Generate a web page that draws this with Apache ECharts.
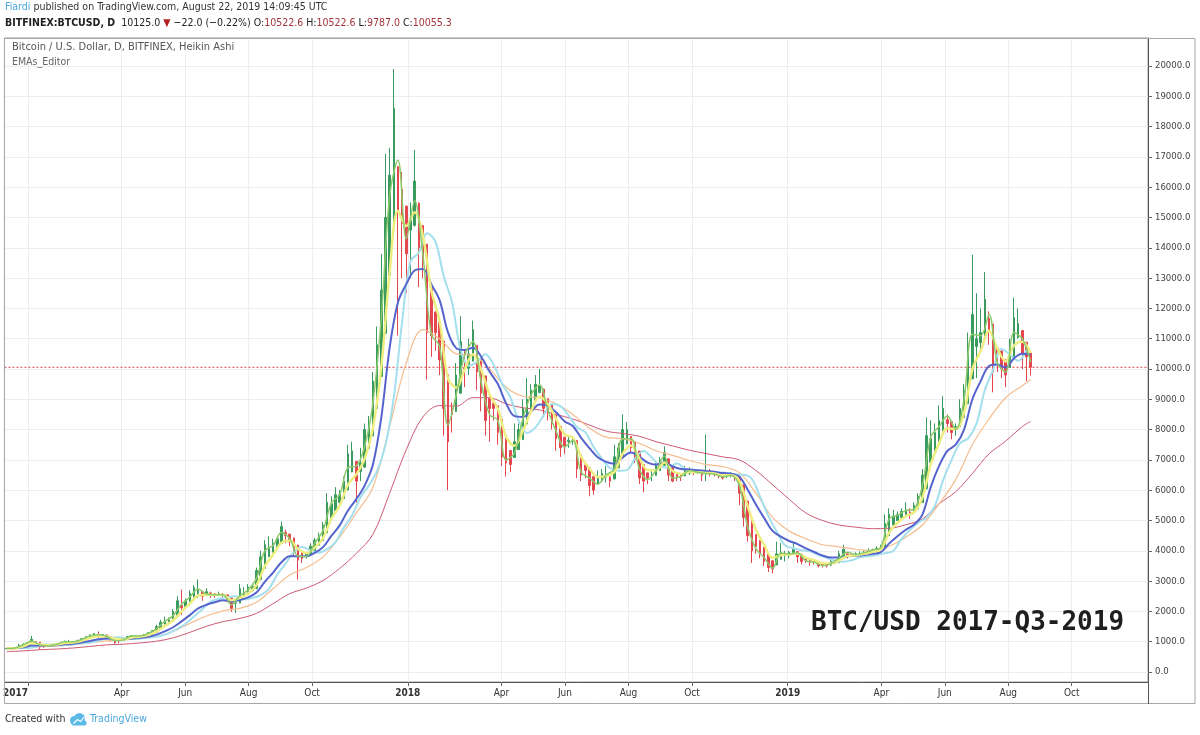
<!DOCTYPE html>
<html><head><meta charset="utf-8">
<script src="https://cdn.jsdelivr.net/npm/echarts/dist/echarts.min.js"></script>
<style>html,body{margin:0;padding:0;background:#fff}#c{width:1200px;height:735px}</style>
</head><body><div id="c"></div>
<script>
// ---------- DATA ----------
// Heikin Ashi candles, one every 4 days starting 2016-12-11
const CANDLE_START = '2016-12-11';
const CANDLE_STEP_DAYS = 4;
const haOpen = [
765,772,780,795,840,880,925,1000,980,905,
870,880,900,910,945,985,988,995,1020,1060,
1110,1165,1230,1210,1222,1170,1130,1050,1040,1065,
1118,1160,1170,1185,1212,1256,1313,1406,1580,1640,
1680,1840,2200,2160,2255,2430,2600,2650,2575,2610,
2585,2560,2570,2545,2440,2270,2275,2510,2565,2680,
2755,3050,3425,3810,3955,4100,4250,4600,4550,4425,
4190,3945,3840,3860,4005,4180,4340,4595,5100,5325,
5590,5720,6010,6600,6950,6620,6760,7380,7790,8700,
9750,11175,13090,14745,16670,15935,15370,14585,14740,15470,
14735,14120,12660,11880,11540,10920,9810,8705,8600,9200,
10050,10025,10260,10780,10340,9770,9035,8870,8785,8340,
7720,7310,7080,7340,7670,8185,8590,8945,9220,9335,
9020,8810,8505,8100,7750,7600,7625,7640,7170,6835,
6740,6445,6220,6310,6430,6440,6370,6735,7070,7535,
7770,7585,7290,6845,6570,6485,6490,6645,6820,7035,
6770,6535,6490,6470,6560,6605,6590,6595,6550,6575,
6560,6540,6510,6455,6470,6485,6450,6175,5640,5070,
4535,4340,4120,3885,3670,3535,3720,3835,3840,3895,
3970,3885,3770,3725,3670,3645,3570,3545,3520,3585,
3610,3755,3900,3875,3860,3880,3900,3925,3970,4000,
4040,4095,4500,4850,5000,5100,5200,5275,5260,5380,
5590,6045,6920,7310,7605,7950,8325,8260,8080,8090,
8395,8850,9675,10740,10870,11035,11670,11485,10690,10595,
10300,10050,10375,11040,11270,10885,10522.6];
const haClose = [
775,785,800,880,920,965,1080,960,830,830,
890,915,920,975,1020,990,1000,1045,1100,1160,
1220,1265,1190,1235,1120,1090,970,1030,1090,1170,
1200,1180,1200,1240,1300,1370,1500,1640,1700,1720,
2000,2350,2120,2350,2600,2780,2700,2500,2650,2560,
2540,2580,2520,2340,2100,2280,2750,2620,2800,2830,
3350,3800,4200,4100,4250,4400,4800,4500,4300,3950,
3700,3750,3880,4150,4350,4500,4850,5600,5550,5850,
5850,6300,7200,7300,6300,6900,8000,8200,9600,10800,
12600,15000,16400,18600,15200,14800,13800,14900,16200,14000,
13500,11200,11100,11200,10300,8700,7600,8500,9800,10900,
10000,10500,11300,9900,9200,8300,8700,8700,7900,7100,
6900,6850,7600,8000,8700,9000,9300,9500,9450,8700,
8600,8200,7700,7400,7450,7650,7650,6700,6500,6650,
6150,6000,6400,6550,6450,6300,7100,7400,8000,8000,
7400,7000,6400,6300,6400,6500,6800,7000,7250,6500,
6300,6450,6450,6650,6650,6580,6600,6500,6600,6550,
6520,6480,6400,6480,6500,6420,5900,5100,4500,4000,
4150,3900,3650,3450,3400,3900,3950,3850,3950,4050,
3800,3650,3680,3620,3620,3500,3520,3500,3650,3640,
3900,4050,3850,3850,3900,3920,3950,4020,4030,4080,
4150,4900,5200,5150,5200,5300,5350,5250,5500,5800,
6500,7800,7700,7900,8300,8700,8200,7900,8100,8700,
9300,10500,11800,11000,11200,12300,11300,9900,10500,10000,
9800,10700,11700,11500,10500,10400,10055.3];
const haLow = [
760,770,778,790,835,875,920,880,760,800,
850,875,895,905,940,950,975,990,1015,1055,
1105,1160,1120,1150,1060,1000,930,950,1030,1060,
1110,1150,1165,1180,1205,1250,1310,1400,1560,1620,
1675,1830,1880,2120,2250,2420,2450,2350,2500,2450,
2450,2500,2460,2300,1980,1950,2270,2480,2560,2670,
2750,3040,3420,3800,3950,4090,4240,4250,4150,3800,
3050,3600,3750,3855,4000,4175,4335,4590,5090,5320,
5450,5710,6000,6590,5600,6300,6750,7370,7780,8690,
9740,11170,13080,14740,11100,13000,12500,13000,14700,12700,
13000,9650,10400,10600,9800,7800,6000,7900,8580,9190,
9400,9800,10250,9300,8600,7800,7600,8300,7500,6800,
6450,6600,7070,7335,7660,8180,8585,8940,9200,8400,
8300,8000,7300,7100,7200,7400,7500,6400,6300,6400,
5800,5850,6210,6300,6250,6100,6365,6730,7065,7500,
7250,6900,6200,5930,6200,6300,6485,6640,6815,6300,
6260,6300,6300,6460,6500,6500,6540,6300,6300,6450,
6450,6400,6350,6400,6420,6300,5500,4800,4300,3600,
3900,3750,3500,3300,3250,3530,3700,3650,3750,3880,
3600,3550,3600,3500,3550,3450,3450,3450,3515,3580,
3605,3750,3750,3800,3830,3850,3880,3920,3965,3995,
4035,4090,4495,4845,4995,5095,5195,5050,5255,5375,
5585,6040,6900,7300,7600,7945,7900,7680,7800,8085,
8390,8845,9670,9700,10600,11030,10800,9230,9900,9700,
9400,10045,10370,11000,10000,9600,9787];
const haHigh = [
780,790,805,930,940,975,1190,1010,985,910,
910,925,930,990,1035,1060,1010,1060,1120,1180,
1240,1290,1340,1250,1225,1175,1135,1060,1110,1190,
1215,1210,1215,1260,1320,1390,1560,1720,1830,1800,
2080,2500,2720,2420,2700,2870,3060,2660,2760,2650,
2600,2650,2610,2550,2445,2400,2900,2800,2900,2910,
3450,4000,4350,4480,4400,4450,4970,4700,4560,4430,
4195,3960,3960,4250,4420,4600,4950,5900,5800,6100,
6000,6450,7500,7600,6955,7400,8200,8450,9900,11400,
13800,17100,17300,19900,16700,16500,15400,15500,17230,15500,
14750,14130,12670,11900,11550,10930,9820,8900,10200,11740,
10600,11000,11600,10790,10350,9780,9100,9000,8790,8345,
7725,7320,8200,8200,9000,9700,9500,9800,10000,9340,
9030,8815,8510,8105,7760,7800,7780,7645,7175,6840,
6745,6450,6650,6700,6800,6450,7500,7550,8500,8250,
7775,7590,7295,6850,6580,6650,6900,7100,7450,7040,
6775,6540,6550,6800,6750,6620,6650,6600,7840,6700,
6570,6545,6515,6550,6600,6490,6455,6180,5645,5075,
4540,4345,4125,3890,3680,4300,4250,4000,4000,4280,
3975,3890,3780,3730,3680,3650,3580,3550,3720,3700,
4000,4200,3910,3880,3950,3980,4000,4080,4070,4150,
4200,5200,5400,5350,5300,5400,5600,5400,5600,5900,
6700,8400,8300,8200,8800,9100,8500,8265,8200,9000,
9500,11200,13770,12500,12000,13200,11900,11490,10700,10600,
10310,11000,12350,12000,11280,10890,10522.6];

// Fast EMA lines, one point every 8 days starting 2016-12-11
const FAST_START = '2016-12-11';
const FAST_STEP_DAYS = 8;
const emaGreen = [
775,793,900,1023,895,860,918,998,995,1073,
1190,1228,1178,1030,1060,1185,1190,1270,1435,1670,
1860,2235,2475,2740,2575,2550,2550,2220,2515,2710,
3090,4000,4175,4600,4400,3825,3815,4250,4675,5575,
5850,6750,6800,7450,8900,11700,15700,16900,14300,15550,
13750,11150,10750,8150,9150,10450,10900,9550,8500,8300,
7000,7225,8350,9150,9475,8650,7950,7425,7650,6600,
6400,6200,6500,6700,7700,7700,6700,6350,6650,7125,
6400,6450,6650,6590,6550,6535,6440,6490,6160,4800,
4075,3775,3425,3925,3900,3925,3665,3620,3510,3575,
3770,3950,3875,3935,4025,4115,5050,5175,5325,5375,
6150,7750,8100,8450,8000,9000,11150,11100,11800,10200,
9900,11200,11000,10228];
const emaYellow = [
780,787,849,945,917,886,904,956,977,1030,
1118,1179,1178,1096,1076,1136,1166,1223,1340,1522,
1708,1998,2261,2525,2553,2551,2550,2368,2449,2593,
2867,3491,3868,4271,4342,4057,3924,4104,4419,5056,
5493,6186,6524,7034,8062,10066,13170,15225,14715,15175,
14390,12605,11583,9691,9393,9975,10485,9970,9160,8686,
7757,7464,7952,8612,9088,8847,8353,7842,7736,7110,
6719,6433,6470,6597,7205,7478,7049,6664,6656,6914,
6631,6531,6597,6593,6569,6550,6489,6490,6308,5477,
4704,4192,3769,3855,3880,3905,3773,3689,3590,3582,
3686,3831,3855,3899,3968,4049,4601,4917,5142,5270,
5755,6854,7541,8042,8019,8560,9987,10600,11261,10676,
10248,10773,10898,10529];
const emaBlue = [
790,791,819,871,877,873,885,914,935,970,
1026,1078,1104,1085,1079,1106,1128,1164,1233,1345,
1477,1671,1877,2098,2220,2304,2367,2329,2377,2462,
2623,2975,3282,3619,3819,3821,3819,3929,4120,4492,
4840,5329,5706,6152,6855,8400,10700,12200,12800,13250,
13300,12799,12274,11218,10689,10628,10698,10404,9917,9503,
8862,8443,8419,8606,8828,8782,8569,8276,8116,7728,
7388,7084,6934,6874,7085,7242,7103,6910,6843,6915,
6783,6698,6686,6661,6633,6608,6565,6546,6447,6025,
5526,5078,4655,4468,4323,4221,4079,3961,3846,3777,
3775,3820,3834,3860,3902,3957,4237,4477,4694,4868,
5196,6100,6800,7300,7500,8000,9000,9600,10100,10150,
10050,10350,10500,10480];
// light-cyan line, same 8-day spacing but starting 2016-12-23
const CYAN_START = '2016-12-23';
const emaCyan = [
790,791,832,904,901,886,898,936,958,1001,
1072,1131,1149,1104,1088,1124,1149,1194,1284,1429,
1591,1833,2074,2324,2418,2468,2499,2394,2439,2541,
2747,3217,3576,3960,4125,4013,3939,4056,4288,4771,
5176,5766,6154,6640,7488,9068,11555,13559,13837,14479,
14206,13060,12194,10678,10105,10234,10484,10134,9521,9063,
8289,7890,8063,8471,8848,8774,8465,8075,7916,7423,
7039,6724,6640,6663,7052,7295,7072,6801,6744,6887,
6704,6609,6624,6611,6588,6568,6520,6509,6378,5786,
5144,4631,4179,4084,4015,3981,3863,3772,3674,3637,
3687,3786,3819,3863,3924,3996,4391,4685,4925,5094,
5490,6338,6999,7543,7714,8196,9304,9978,10661,10488,
10268,10618];
// Slow EMA lines, one point every 16 days from 2016-12-11, last point on 2019-08-22
const SLOW_START = '2016-12-11';
const SLOW_STEP_DAYS = 16;
const SLOW_LAST = '2019-08-22';
const emaOrange = [
760,790,840,860,900,960,1030,1080,1120,1170,
1340,1600,1850,2020,2100,2300,2750,3200,3450,3800,
4450,5250,6100,8100,10200,11300,11000,10500,10450,10000,
9400,9100,9050,8850,8500,8050,7750,7700,7550,7300,
7150,6980,6850,6780,6580,5900,5100,4650,4400,4200,
4130,4050,4000,4150,4450,4850,5550,6350,7500,8350,
9050,9450,9650];
const emaRed = [
670,696,735,758,793,843,896,918,958,1016,
1127,1309,1509,1663,1767,1935,2254,2586,2769,3020,
3419,3916,4546,5901,7336,8418,8793,8772,9054,9050,
8850,8720,8650,8500,8350,8150,7950,7870,7780,7600,
7460,7320,7210,7100,7000,6650,6180,5700,5250,5000,
4850,4780,4730,4740,4860,5050,5550,5950,6550,7200,
7620,8100,8270];

const LAST_CLOSE = 10055.3;
const priceTicks = [0,1000,2000,3000,4000,5000,6000,7000,8000,9000,10000,
  11000,12000,13000,14000,15000,16000,17000,18000,19000,20000];
const timeTickDates = ['2017-01-01','2017-04-01','2017-06-01','2017-08-01','2017-10-01',
  '2018-01-01','2018-04-01','2018-06-01','2018-08-01','2018-10-01',
  '2019-01-01','2019-04-01','2019-06-01','2019-08-01','2019-10-01'];
const timeTickLabels = ['2017','Apr','Jun','Aug','Oct','2018','Apr','Jun','Aug','Oct',
  '2019','Apr','Jun','Aug','Oct'];
const AXIS_MIN = '2016-12-09T08:00:00Z';
const AXIS_MAX = '2019-12-13T07:00:00Z';

// ---------- BUILD ----------
const DAY = 86400000;
function ts(iso, addDays) { return Date.parse(iso + 'T12:00:00Z') + (addDays || 0) * DAY; }
const xMin = Date.parse(AXIS_MIN), xMax = Date.parse(AXIS_MAX);
const candleData = haOpen.map((o, i) => [ts(CANDLE_START, i * CANDLE_STEP_DAYS), o, haClose[i], haLow[i], haHigh[i]]);
const fastLine = (arr, start) => arr.map((v, i) => [ts(start, i * FAST_STEP_DAYS), v]);
const slowLine = arr => arr.map((v, i) => [i < arr.length - 1 ? ts(SLOW_START, i * SLOW_STEP_DAYS) : ts(SLOW_LAST), v]);
const tickTs = timeTickDates.map(d => Date.parse(d + 'T00:00:00Z'));
const tickLabelMap = {};
tickTs.forEach((t, i) => { tickLabelMap[t] = timeTickLabels[i]; });

const F = "'DejaVu Sans Condensed',Roboto,'Noto Sans',sans-serif";
const chart = echarts.init(document.getElementById('c'), null, {renderer: 'canvas'});

function lineSeries(name, data, color, width, z) {
  return {name, type: 'line', data, symbol: 'none', showSymbol: false, smooth: 0.35,
    lineStyle: {color, width}, z, silent: true};
}

const option = {
  animation: false,
  backgroundColor: '#ffffff',
  grid: {left: 4, right: 52, top: 38, bottom: 53, show: true, borderColor: '#9a9a9a', borderWidth: 1},
  xAxis: {
    type: 'value', min: xMin, max: xMax,
    axisLine: {show: true, onZero: false, lineStyle: {color: '#555', width: 1}},
    axisTick: {show: true, customValues: tickTs, length: 4, lineStyle: {color: '#666'}},
    axisLabel: {
      customValues: tickTs, color: '#333', fontSize: 10, fontFamily: F, margin: 6,
      alignMinLabel: 'right',
      formatter: v => {
        const lab = tickLabelMap[v] || '';
        return /^\d{4}$/.test(lab) ? '{y|' + lab + '}' : lab;
      },
      rich: {y: {fontWeight: 'bold', fontSize: 10, fontFamily: F, color: '#333'}}
    },
    splitLine: {show: true, lineStyle: {color: '#eceef1', width: 1}}
  },
  yAxis: {
    type: 'value', position: 'right', min: -330, max: 20923,
    axisLine: {show: true, lineStyle: {color: '#555', width: 1}},
    axisTick: {show: true, customValues: priceTicks, length: 4, lineStyle: {color: '#666'}},
    axisLabel: {customValues: priceTicks, color: '#444', fontSize: 9.5, fontFamily: F, margin: 7,
      formatter: v => Number(v).toFixed(1)},
    splitLine: {show: true, lineStyle: {color: '#eceef1', width: 1}}
  },
  series: [
    {
      name: 'Last price', type: 'line', symbol: 'none', silent: true, z: 1,
      data: [[xMin, LAST_CLOSE], [xMax, LAST_CLOSE]],
      lineStyle: {color: '#e0434b', type: [2, 2], width: 1}
    },
    {
      name: 'BTCUSD', type: 'candlestick', data: candleData, barWidth: 2, z: 2,
      itemStyle: {color: '#3a9b5e', color0: '#e4474f', borderColor: '#3a9b5e', borderColor0: '#e4474f', borderWidth: 1}
    },
    lineSeries('EMA red', slowLine(emaRed), '#cf5a74', 1, 3),
    lineSeries('EMA orange', slowLine(emaOrange), '#f5bd8e', 1.2, 3),
    lineSeries('EMA cyan', fastLine(emaCyan, CYAN_START), '#a4dfee', 2, 3),
    lineSeries('EMA blue', fastLine(emaBlue, FAST_START), '#5563cc', 2, 4),
    lineSeries('EMA yellow', fastLine(emaYellow, FAST_START), '#eeee80', 2.5, 4),
    lineSeries('EMA green', fastLine(emaGreen, FAST_START), '#8cca6c', 1.5, 4)
  ],
  graphic: [
    {type: 'rect', z: 100, shape: {x: 4.5, y: 38.5, width: 1190.5, height: 665}, style: {fill: 'none', stroke: '#a8a8a8', lineWidth: 1}, silent: true},
    {type: 'line', z: 100, shape: {x1: 1148.5, y1: 682, x2: 1148.5, y2: 704}, style: {stroke: '#555', lineWidth: 1}, silent: true},
    {type: 'text', z: 100, left: 5, top: 2, style: {
      text: '{a|Fiardi}{b| published on TradingView.com, August 22, 2019 14:09:45 UTC}',
      rich: {a: {fill: '#4ba6dd', fontSize: 10.5, fontFamily: F}, b: {fill: '#333', fontSize: 10.5, fontFamily: F}}}},
    {type: 'text', z: 100, left: 5, top: 18, style: {
      text: '{k|BITFINEX:BTCUSD, D}{n|  10125.0 }{r|▼}{n| −22.0 (−0.22%) O:}{v|10522.6}{n| H:}{v|10522.6}{n| L:}{v|9787.0}{n| C:}{v|10055.3}',
      rich: {k: {fill: '#222', fontSize: 10.5, fontWeight: 'bold', fontFamily: F},
             n: {fill: '#222', fontSize: 10.5, fontFamily: F},
             r: {fill: '#b22222', fontSize: 10.5, fontFamily: F},
             v: {fill: '#a3343a', fontSize: 10.5, fontFamily: F}}}},
    {type: 'text', z: 100, left: 12, top: 42, style: {text: 'Bitcoin / U.S. Dollar, D, BITFINEX, Heikin Ashi', fill: '#555', fontSize: 11, fontFamily: F}},
    {type: 'text', z: 100, left: 12, top: 57, style: {text: 'EMAs_Editor', fill: '#666', fontSize: 10.5, fontFamily: F}},
    {type: 'text', z: 100, left: 811, top: 610, style: {text: 'BTC/USD 2017-Q3-2019', fill: '#1e1e1e', fontSize: 26, fontWeight: 'bold', fontFamily: "'DejaVu Sans Mono',monospace"}},
    {type: 'text', z: 100, left: 5, top: 714, style: {text: 'Created with', fill: '#333', fontSize: 10.5, fontFamily: F}},
    {type: 'group', z: 100, left: 70, top: 713, children: [
      {type: 'circle', shape: {cx: 6, cy: 8, r: 4.5}, style: {fill: '#5cbbe6'}},
      {type: 'circle', shape: {cx: 11, cy: 6, r: 5.5}, style: {fill: '#5cbbe6'}},
      {type: 'rect', shape: {x: 3, y: 8, width: 15, height: 5, r: 2}, style: {fill: '#5cbbe6'}},
      {type: 'polyline', shape: {points: [[5, 11], [9, 7], [12, 9], [16, 4]]}, style: {stroke: '#ffffff', lineWidth: 1.2, fill: 'none'}}
    ]},
    {type: 'text', z: 100, left: 90, top: 714, style: {text: 'TradingView', fill: '#4ba6dd', fontSize: 10.5, fontFamily: F}}
  ]
};
chart.setOption(option);
</script></body></html>
